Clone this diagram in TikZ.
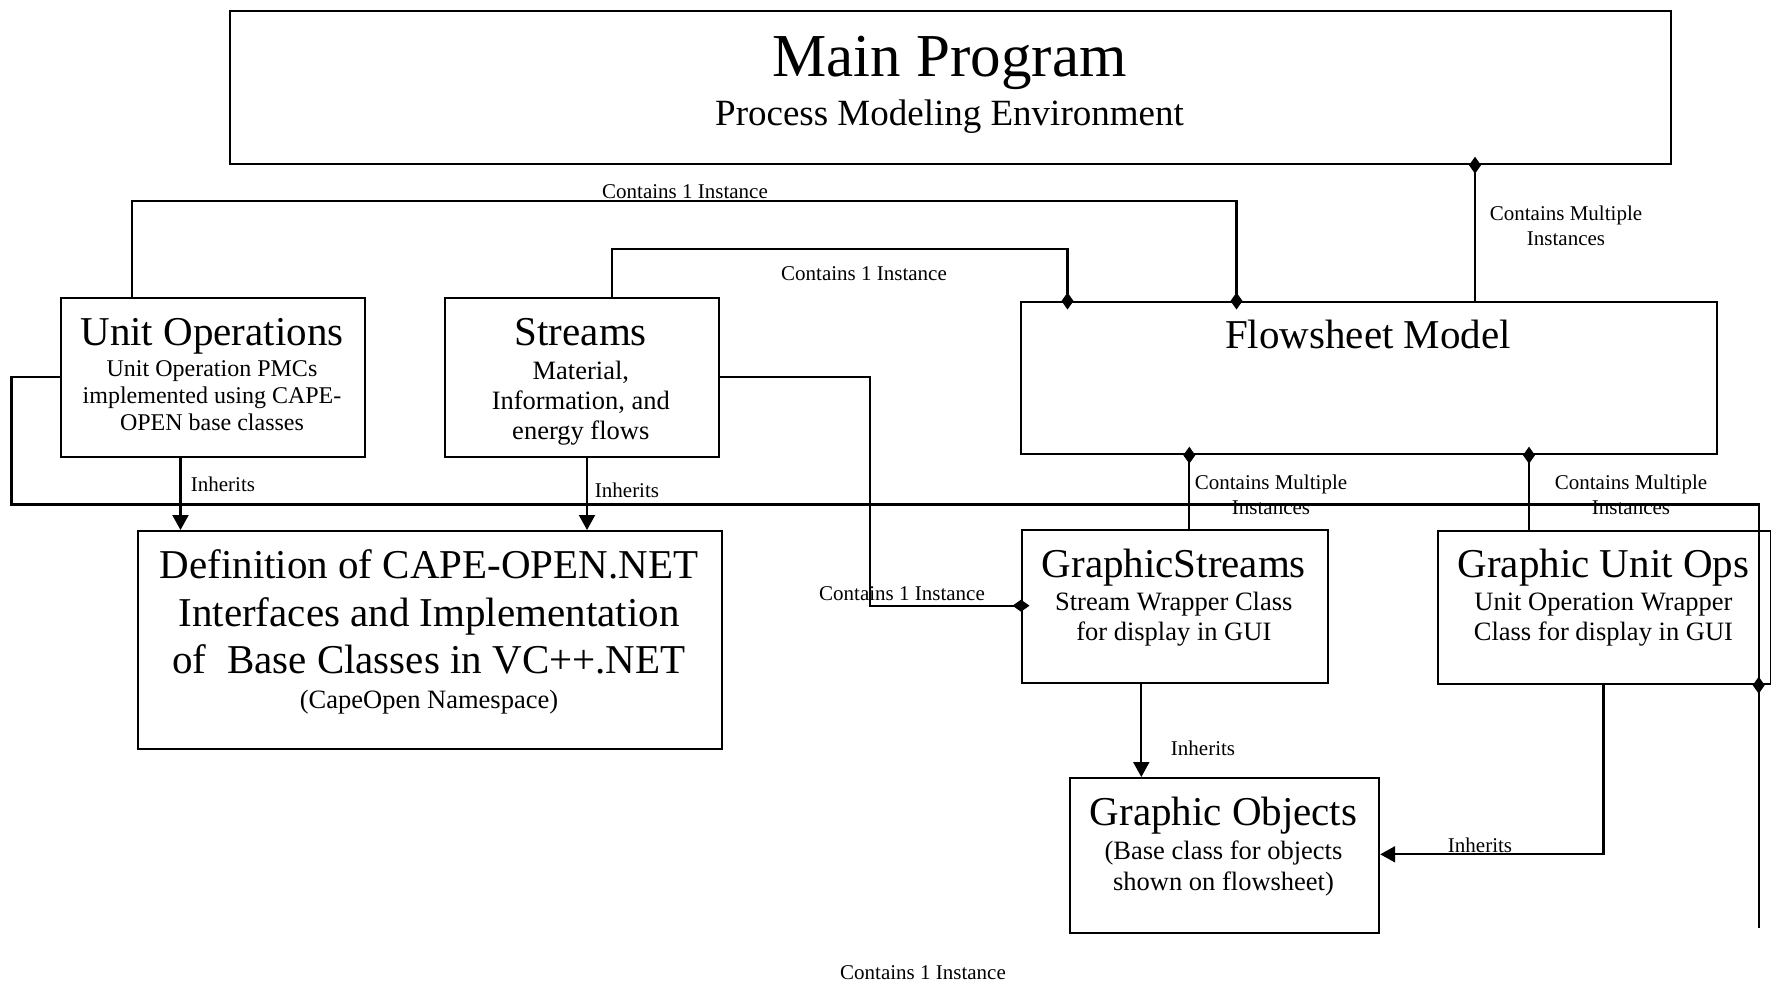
\documentclass[tikz,border=0pt]{standalone}
\usepackage{fontspec}
\setmainfont{Liberation Serif}
\usetikzlibrary{arrows.meta}

\begin{document}
\begin{tikzpicture}[x=1pt,y=-1pt,
  box/.style={draw, line width=2.2pt, inner sep=0pt, anchor=north west},
  ttl/.style={font=\fontsize{41}{47}\selectfont, anchor=base, inner sep=0pt},
  body/.style={font=\fontsize{26.5}{30}\selectfont, anchor=base, inner sep=0pt},
  smallbody/.style={font=\fontsize{24}{28}\selectfont, anchor=base, inner sep=0pt},
  lbl/.style={font=\fontsize{21}{25}\selectfont, anchor=base, inner sep=0pt},
  wire/.style={line width=2.1pt},
  hasstart/.style={wire, {Diamond[length=17pt,width=12pt]}-, shorten <=-8.5pt},
  hasend/.style={wire, -{Diamond[length=17pt,width=12pt]}, shorten >=-8.5pt},
  inherit/.style={wire, -{Triangle[length=15pt,width=16pt]}}]

\useasboundingbox (0,0) rectangle (1771,982);

% ---- class boxes ----
\node[box, minimum width=1441pt, minimum height=153pt] (main) at (229,10) {};
\node[box, minimum width=304pt, minimum height=159pt] (unitops) at (60,297) {};
\node[box, minimum width=274pt, minimum height=159pt] (streams) at (444,297) {};
\node[box, minimum width=696pt, minimum height=152pt] (flowsheet) at (1020,301) {};
\node[box, minimum width=584pt, minimum height=218pt] (cape) at (137,530) {};
\node[box, minimum width=306pt, minimum height=153pt] (gstreams) at (1021,529) {};
\node[box, minimum width=333pt, minimum height=153pt] (gunitops) at (1437,530) {};
\node[box, minimum width=309pt, minimum height=155pt] (gobjects) at (1069,777) {};

% ---- box texts ----
\node[anchor=base, inner sep=0pt, font=\fontsize{61}{70}\selectfont] (main-t) at (949.5,76) {Main Program};
\node[anchor=base, inner sep=0pt, font=\fontsize{37}{42}\selectfont] (main-s) at (949.5,125) {Process Modeling Environment};

\node[ttl] (uo-t) at (212,345) {Unit Operations};
\node[smallbody] (uo-b1) at (212,376.7) {Unit Operation PMCs};
\node[smallbody] (uo-b2) at (212,403.3) {implemented using CAPE-};
\node[smallbody] (uo-b3) at (212,430) {OPEN base classes};

\node[ttl] (st-t) at (580.8,345) {Streams};
\node[body] (st-b1) at (580.8,379) {Material,};
\node[body] (st-b2) at (580.8,409) {Information, and};
\node[body] (st-b3) at (580.8,439) {energy flows};

\node[ttl] (fs-t) at (1368,348) {Flowsheet Model};

\node[ttl] (co-t1) at (429,578) {Definition of CAPE-OPEN.NET};
\node[ttl] (co-t2) at (429,626) {Interfaces and Implementation};
\node[ttl] (co-t3) at (429,673) {of\ \ Base Classes in VC++.NET};
\node[body] (co-b) at (429,708) {(CapeOpen Namespace)};

\node[ttl] (gs-t) at (1173.8,577) {GraphicStreams};
\node[body] (gs-b1) at (1173.8,610) {Stream Wrapper Class};
\node[body] (gs-b2) at (1173.8,640) {for display in GUI};

\node[ttl] (gu-t) at (1603.4,577) {Graphic Unit Ops};
\node[body] (gu-b1) at (1603.4,610) {Unit Operation Wrapper};
\node[body] (gu-b2) at (1603.4,640) {Class for display in GUI};

\node[ttl] (go-t) at (1223.5,825) {Graphic Objects};
\node[body] (go-b1) at (1223.5,859) {(Base class for objects};
\node[body] (go-b2) at (1223.5,890) {shown on flowsheet)};

% ---- routing points ----
\coordinate (r1a) at (132,201);
\coordinate (r1b) at (1236.5,201);
\coordinate (r2a) at (612,249);
\coordinate (r2b) at (1067.5,249);
\coordinate (r3) at (1475,0);
\coordinate (r4) at (180.5,0);
\coordinate (r5) at (587,0);
\coordinate (r6a) at (11.5,376.7);
\coordinate (r6b) at (11.5,504.5);
\coordinate (r6c) at (1758.7,504.5);
\coordinate (r6end) at (1758.7,928);
\coordinate (r7a) at (869.7,376.7);
\coordinate (r7b) at (869.7,605.7);
\coordinate (r8) at (1189.3,0);
\coordinate (r9) at (1529,0);
\coordinate (r10) at (1141.3,0);
\coordinate (r11) at (1603.5,854.3);

% ---- containment connectors ----
\draw[hasend] (unitops.north -| r1a) -- (r1a) -- (r1b) -- (flowsheet.north -| r1b);
\draw[hasend] (streams.north -| r2a) -- (r2a) -- (r2b) -- (flowsheet.north -| r2b);
\draw[hasstart] (main.south -| r3) -- (flowsheet.north -| r3);
\draw[hasend] (unitops.west |- r6a) -- (r6a) -- (r6b) -- (r6c) -- (gunitops.south -| r6c);
\draw[wire] (gunitops.south -| r6c) -- (r6end);
\draw[hasend] (streams.east |- r7a) -- (r7a) -- (r7b) -- (gstreams.west |- r7b);
\draw[hasstart] (flowsheet.south -| r8) -- (gstreams.north -| r8);
\draw[hasstart] (flowsheet.south -| r9) -- (gunitops.north -| r9);

% ---- inheritance connectors ----
\draw[inherit] (unitops.south -| r4) -- (cape.north -| r4);
\draw[inherit] (streams.south -| r5) -- (cape.north -| r5);
\draw[inherit] (gstreams.south -| r10) -- (gobjects.north -| r10);
\draw[inherit] (gunitops.south -| r11) -- (r11) -- (gobjects.east |- r11);

% ---- connector labels ----
\node[lbl] (l1) at (685,198) {Contains 1 Instance};
\node[lbl] (l2) at (864,280) {Contains 1 Instance};
\node[lbl] (l3) at (902,600) {Contains 1 Instance};
\node[lbl] (l4) at (923,979) {Contains 1 Instance};
\node[lbl] (l5a) at (1566,220) {Contains Multiple};
\node[lbl] (l5b) at (1566,245) {Instances};
\node[lbl] (l6a) at (1271,489) {Contains Multiple};
\node[lbl] (l6b) at (1271,514) {Instances};
\node[lbl] (l7a) at (1631,489) {Contains Multiple};
\node[lbl] (l7b) at (1631,514) {Instances};
\node[lbl] (i1) at (223,491) {Inherits};
\node[lbl] (i2) at (627,497) {Inherits};
\node[lbl] (i3) at (1203,755) {Inherits};
\node[lbl] (i4) at (1480,852) {Inherits};

\end{tikzpicture}
\end{document}
